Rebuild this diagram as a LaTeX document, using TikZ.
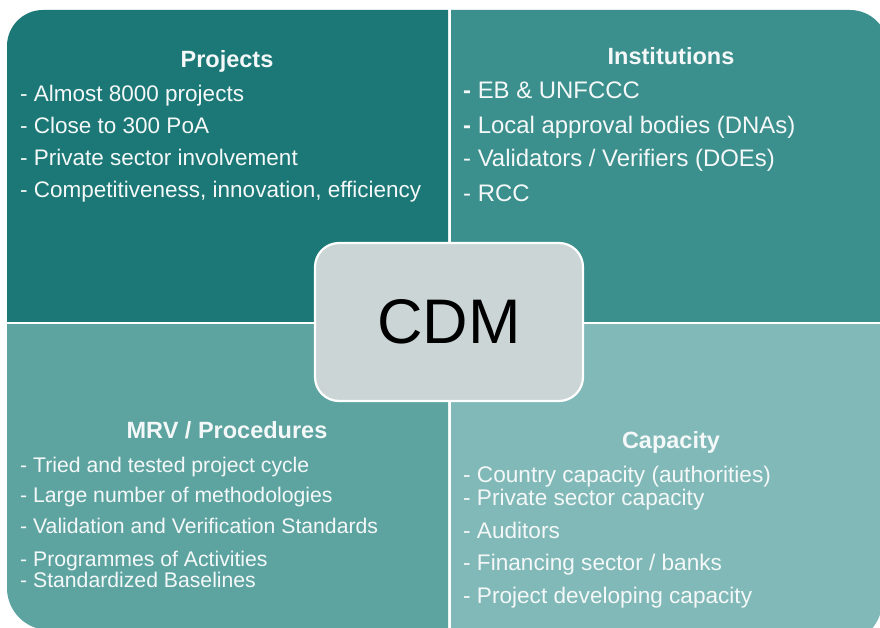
\documentclass[tikz,border=0pt]{standalone}
\usepackage{fontspec}
\setmainfont{Liberation Sans}
\definecolor{qtl}{HTML}{1C7876}
\definecolor{qtr}{HTML}{3B8F8C}
\definecolor{qbl}{HTML}{5DA4A1}
\definecolor{qbr}{HTML}{80B9B7}
\definecolor{cdmgray}{HTML}{CBD5D6}
\definecolor{txt}{HTML}{F4F8F8}
\tikzset{
  head/.style={anchor=base, text=txt, font=\fontsize{23.5}{26}\selectfont\bfseries, inner sep=0pt},
  item/.style={anchor=base west, text=txt, font=\fontsize{22.5}{26}\selectfont, inner sep=0pt},
  itemi/.style={item, font=\fontsize{23.9}{26}\selectfont},
  itemm/.style={item, font=\fontsize{21.2}{26}\selectfont},
  itemc/.style={item, font=\fontsize{22.6}{26}\selectfont},
  cdmbox/.style={draw=white, line width=2.2pt, fill=cdmgray, rounded corners=24pt,
    minimum width=268pt, minimum height=158pt, inner sep=0pt,
    font=\fontsize{63}{70}\selectfont, text=black}
}
\begin{document}
\begin{tikzpicture}[x=1pt,y=-1pt]
\useasboundingbox (0,0) rectangle (880,628);
\fill[white] (0,0) rectangle (880,628);
% quadrants
\begin{scope}\clip (7,10) rectangle (448,321);
  \fill[qtl, rounded corners=36pt] (7,10) rectangle (700,700);
\end{scope}
\begin{scope}\clip (451,10) rectangle (880,321);
  \fill[qtr, rounded corners=38pt] (200,10) rectangle (888,700);
\end{scope}
\begin{scope}\clip (7,324) rectangle (448,628);
  \fill[qbl, rounded corners=42pt] (7,0) rectangle (700,630);
\end{scope}
\begin{scope}\clip (451,324) rectangle (880,628);
  \fill[qbr, rounded corners=40pt] (200,0) rectangle (882,642);
\end{scope}
% Projects
\node[head] (hp) at (227,68) {Projects};
\node[item] (p1) at (20,102) {- Almost 8000 projects};
\node[item] (p2) at (20,134) {- Close to 300 PoA};
\node[item] (p3) at (20,166) {- Private sector involvement};
\node[item] (p4) at (20,198) {- Competitiveness, innovation, efficiency};
% Institutions
\node[head] (hi) at (671,65) {Institutions};
\node[itemi] (i1) at (463,99) {\textbf{-} EB \& UNFCCC};
\node[itemi] (i2) at (463,134) {\textbf{-} Local approval bodies (DNAs)};
\node[itemi] (i3) at (463,167) {- Validators / Verifiers (DOEs)};
\node[itemi] (i4) at (463,202) {- RCC};
% MRV
\node[head] (hm) at (227,438) {MRV / Procedures};
\node[itemm] (m1) at (20,472) {- Tried and tested project cycle};
\node[itemm] (m2) at (20,502) {- Large number of methodologies};
\node[itemm] (m3) at (20,533) {- Validation and Verification Standards};
\node[itemm] (m4) at (20,566) {- Programmes of Activities};
\node[itemm] (m5) at (20,587) {- Standardized Baselines};
% Capacity
\node[head] (hc) at (671,448) {Capacity};
\node[itemc] (c1) at (463,482) {- Country capacity (authorities)};
\node[itemc] (c2) at (463,505) {- Private sector capacity};
\node[itemc] (c3) at (463,538) {- Auditors};
\node[itemc] (c4) at (463,570) {- Financing sector / banks};
\node[itemc] (c5) at (463,603) {- Project developing capacity};
% centre
\node[cdmbox] (cdm) at (449,322) {CDM};
\end{tikzpicture}
\end{document}
